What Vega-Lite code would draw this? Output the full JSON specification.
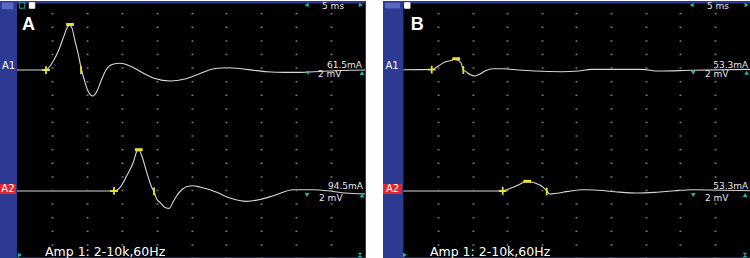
{
"$schema": "https://vega.github.io/schema/vega-lite/v6.json",
"background": "white",
"padding": 0,
"spacing": 17,
"bounds": "flush",
"config": {
  "view": {"fill": "#2d3a92", "stroke": null}
},
"datasets": {
  "trace": [
    {"p":"A","ch":"A1","t":0,"v":0},{"p":"A","ch":"A1","t":4.15,"v":0},{"p":"A","ch":"A1","t":4.58,"v":0.37},{"p":"A","ch":"A1","t":5.2,"v":1.32},{"p":"A","ch":"A1","t":5.92,"v":2.79},{"p":"A","ch":"A1","t":6.63,"v":4.75},{"p":"A","ch":"A1","t":7.16,"v":6.18},{"p":"A","ch":"A1","t":7.52,"v":6.62},{"p":"A","ch":"A1","t":7.86,"v":6.2},{"p":"A","ch":"A1","t":8.31,"v":4.26},{"p":"A","ch":"A1","t":8.78,"v":2.31},{"p":"A","ch":"A1","t":9.17,"v":0.34},{"p":"A","ch":"A1","t":9.6,"v":-1.32},{"p":"A","ch":"A1","t":10.17,"v":-3.09},{"p":"A","ch":"A1","t":10.85,"v":-3.82},{"p":"A","ch":"A1","t":11.46,"v":-3.09},{"p":"A","ch":"A1","t":12.03,"v":-1.62},{"p":"A","ch":"A1","t":12.75,"v":0},{"p":"A","ch":"A1","t":13.61,"v":0.81},{"p":"A","ch":"A1","t":14.76,"v":0.99},{"p":"A","ch":"A1","t":16.19,"v":0.59},{"p":"A","ch":"A1","t":18.05,"v":-0.44},{"p":"A","ch":"A1","t":19.77,"v":-1.25},{"p":"A","ch":"A1","t":21.92,"v":-1.62},{"p":"A","ch":"A1","t":24.07,"v":-1.32},{"p":"A","ch":"A1","t":26.22,"v":-0.51},{"p":"A","ch":"A1","t":28.37,"v":0.22},{"p":"A","ch":"A1","t":30.09,"v":0.34},{"p":"A","ch":"A1","t":31.95,"v":0.22},{"p":"A","ch":"A1","t":34.1,"v":-0.07},{"p":"A","ch":"A1","t":35.82,"v":-0.25},{"p":"A","ch":"A1","t":38.4,"v":-0.34},{"p":"A","ch":"A1","t":40.54,"v":-0.34},{"p":"A","ch":"A1","t":43.41,"v":-0.22},{"p":"A","ch":"A1","t":46.28,"v":-0.07},{"p":"A","ch":"A1","t":49.86,"v":0},
    {"p":"A","ch":"A2","t":0,"v":-17.79},{"p":"A","ch":"A2","t":13.9,"v":-17.79},{"p":"A","ch":"A2","t":14.33,"v":-17.65},{"p":"A","ch":"A2","t":14.76,"v":-17.25},{"p":"A","ch":"A2","t":15.72,"v":-15.54},{"p":"A","ch":"A2","t":16.66,"v":-13.57},{"p":"A","ch":"A2","t":17.12,"v":-12.06},{"p":"A","ch":"A2","t":17.41,"v":-11.72},{"p":"A","ch":"A2","t":17.87,"v":-12.6},{"p":"A","ch":"A2","t":18.58,"v":-15.04},{"p":"A","ch":"A2","t":19.3,"v":-17.25},{"p":"A","ch":"A2","t":19.63,"v":-17.9},{"p":"A","ch":"A2","t":20.01,"v":-18.97},{"p":"A","ch":"A2","t":20.49,"v":-19.46},{"p":"A","ch":"A2","t":21.2,"v":-20.2},{"p":"A","ch":"A2","t":21.82,"v":-20.34},{"p":"A","ch":"A2","t":22.35,"v":-19.41},{"p":"A","ch":"A2","t":22.88,"v":-18.49},{"p":"A","ch":"A2","t":23.74,"v":-17.5},{"p":"A","ch":"A2","t":24.36,"v":-17.13},{"p":"A","ch":"A2","t":25.17,"v":-17.01},{"p":"A","ch":"A2","t":26.22,"v":-17.21},{"p":"A","ch":"A2","t":28.61,"v":-17.99},{"p":"A","ch":"A2","t":30.52,"v":-18.82},{"p":"A","ch":"A2","t":32.91,"v":-19.31},{"p":"A","ch":"A2","t":34.81,"v":-19.04},{"p":"A","ch":"A2","t":36.72,"v":-18.49},{"p":"A","ch":"A2","t":39.58,"v":-17.6},{"p":"A","ch":"A2","t":42.41,"v":-17.6},{"p":"A","ch":"A2","t":44.84,"v":-17.79},{"p":"A","ch":"A2","t":46.99,"v":-18.09},{"p":"A","ch":"A2","t":49.86,"v":-18.24},
    {"p":"B","ch":"A1","t":0,"v":0.05},{"p":"B","ch":"A1","t":4.09,"v":0.07},{"p":"B","ch":"A1","t":5.04,"v":0.59},{"p":"B","ch":"A1","t":6.01,"v":1.18},{"p":"B","ch":"A1","t":6.98,"v":1.43},{"p":"B","ch":"A1","t":7.31,"v":1.62},{"p":"B","ch":"A1","t":7.7,"v":1.51},{"p":"B","ch":"A1","t":8.32,"v":1.07},{"p":"B","ch":"A1","t":8.66,"v":-0.04},{"p":"B","ch":"A1","t":8.9,"v":-0.15},{"p":"B","ch":"A1","t":9.62,"v":-0.66},{"p":"B","ch":"A1","t":10.35,"v":-0.88},{"p":"B","ch":"A1","t":11.07,"v":-0.59},{"p":"B","ch":"A1","t":11.79,"v":-0.15},{"p":"B","ch":"A1","t":12.99,"v":0.19},{"p":"B","ch":"A1","t":14.44,"v":0.19},{"p":"B","ch":"A1","t":16.6,"v":0},{"p":"B","ch":"A1","t":19.02,"v":-0.15},{"p":"B","ch":"A1","t":22.88,"v":-0.25},{"p":"B","ch":"A1","t":25.27,"v":-0.15},{"p":"B","ch":"A1","t":27.21,"v":0.1},{"p":"B","ch":"A1","t":34.44,"v":0.1},{"p":"B","ch":"A1","t":36.84,"v":-0.15},{"p":"B","ch":"A1","t":41.66,"v":-0.04},{"p":"B","ch":"A1","t":50.09,"v":0.1},
    {"p":"B","ch":"A2","t":0,"v":-17.79},{"p":"B","ch":"A2","t":14.35,"v":-17.79},{"p":"B","ch":"A2","t":15.16,"v":-17.5},{"p":"B","ch":"A2","t":16.6,"v":-16.91},{"p":"B","ch":"A2","t":17.43,"v":-16.47},{"p":"B","ch":"A2","t":17.86,"v":-16.32},{"p":"B","ch":"A2","t":18.44,"v":-16.47},{"p":"B","ch":"A2","t":19.02,"v":-16.62},{"p":"B","ch":"A2","t":20.22,"v":-17.25},{"p":"B","ch":"A2","t":20.71,"v":-17.75},{"p":"B","ch":"A2","t":21.18,"v":-18.24},{"p":"B","ch":"A2","t":22.15,"v":-18.13},{"p":"B","ch":"A2","t":23.83,"v":-17.84},{"p":"B","ch":"A2","t":26.0,"v":-17.6},{"p":"B","ch":"A2","t":27.69,"v":-17.65},{"p":"B","ch":"A2","t":30.58,"v":-17.9},{"p":"B","ch":"A2","t":33.95,"v":-18.09},{"p":"B","ch":"A2","t":36.36,"v":-17.99},{"p":"B","ch":"A2","t":39.25,"v":-17.75},{"p":"B","ch":"A2","t":41.66,"v":-17.6},{"p":"B","ch":"A2","t":50.09,"v":-17.75}
  ],
  "marks": [
    {"p":"A","k":"on","t":4.15,"v":0},{"p":"A","k":"peak","t":7.59,"v":6.69},{"p":"A","k":"end","t":9.17,"v":0},
    {"p":"A","k":"on","t":13.9,"v":-17.79},{"p":"A","k":"peak","t":17.45,"v":-11.72},{"p":"A","k":"end","t":19.63,"v":-17.85},
    {"p":"B","k":"on","t":4.09,"v":0.07},{"p":"B","k":"peak","t":7.63,"v":1.66},{"p":"B","k":"end","t":8.66,"v":0},
    {"p":"B","k":"on","t":14.35,"v":-17.79},{"p":"B","k":"peak","t":17.9,"v":-16.37},{"p":"B","k":"end","t":20.71,"v":-17.87}
  ],
  "boxes": [
    {"p":"A","k":"plot","t":0,"t2":49.86,"v":-27.54,"v2":9.78},
    {"p":"A","k":"tag","t":-2.44,"t2":-0.15,"v":-18.24,"v2":-16.76},
    {"p":"A","k":"icon","t":-2.19,"t2":-0.53,"v":8.93,"v2":9.93},
    {"p":"B","k":"plot","t":0,"t2":50.09,"v":-27.54,"v2":9.78},
    {"p":"B","k":"tag","t":-2.95,"t2":-0.2,"v":-18.24,"v2":-16.76},
    {"p":"B","k":"icon","t":-2.66,"t2":-0.49,"v":9.07,"v2":9.9}
  ],
  "tris": [
    {"p":"A","k":"left","t":41.5,"v":9.56},{"p":"A","k":"right","t":49.28,"v":9.56},{"p":"A","k":"down","t":41.69,"v":-0.44},{"p":"A","k":"up","t":49.43,"v":-0.44},{"p":"A","k":"down","t":41.55,"v":-18.38},{"p":"A","k":"up","t":49.43,"v":-18.45},{"p":"A","k":"right","t":0.43,"v":-27.2},{"p":"A","k":"hour","t":49.14,"v":-27.2},
    {"p":"B","k":"left","t":41.66,"v":9.56},{"p":"B","k":"right","t":49.61,"v":9.56},{"p":"B","k":"down","t":41.89,"v":-0.39},{"p":"B","k":"up","t":49.61,"v":-0.39},{"p":"B","k":"down","t":41.89,"v":-18.38},{"p":"B","k":"up","t":49.39,"v":-18.38},{"p":"B","k":"right","t":0.23,"v":-27.2},{"p":"B","k":"hour","t":49.36,"v":-27.2}
  ],
  "squares": [
    {"p":"A","k":"outline","t":0.72,"v":9.49},{"p":"A","k":"white","t":2.15,"v":9.49},{"p":"B","k":"white","t":0.55,"v":9.49}
  ],
  "labels": [
    {"p":"A","r":"letter","t":1.65,"v":6.6,"txt":"A"},
    {"p":"A","r":"side","t":-1.22,"v":0.55,"txt":"A1"},
    {"p":"A","r":"side","t":-1.3,"v":-17.5,"txt":"A2"},
    {"p":"A","r":"amp","t":49.43,"v":0.3,"txt":"61.5mA"},
    {"p":"A","r":"amp","t":49.57,"v":-17.55,"txt":"94.5mA"},
    {"p":"A","r":"scale","t":43.12,"v":-1.0,"txt":"2 mV"},
    {"p":"A","r":"scale","t":43.27,"v":-19.25,"txt":"2 mV"},
    {"p":"A","r":"scale","t":43.7,"v":8.97,"txt":"5 ms"},
    {"p":"A","r":"foot","t":4.01,"v":-27.35,"txt":"Amp 1: 2-10k,60Hz"},
    {"p":"B","r":"letter","t":1.99,"v":6.6,"txt":"B"},
    {"p":"B","r":"side","t":-1.65,"v":0.55,"txt":"A1"},
    {"p":"B","r":"side","t":-1.58,"v":-17.5,"txt":"A2"},
    {"p":"B","r":"amp","t":49.84,"v":0.35,"txt":"53.3mA"},
    {"p":"B","r":"amp","t":49.84,"v":-17.5,"txt":"53.3mA"},
    {"p":"B","r":"scale","t":43.58,"v":-1.0,"txt":"2 mV"},
    {"p":"B","r":"scale","t":43.58,"v":-19.2,"txt":"2 mV"},
    {"p":"B","r":"scale","t":43.87,"v":8.97,"txt":"5 ms"},
    {"p":"B","r":"foot","t":3.84,"v":-27.35,"txt":"Amp 1: 2-10k,60Hz"}
  ]
},
"hconcat": [
  {
    "width": 366, "height": 258,
    "resolve": {"scale": {"shape": "independent", "color": "independent", "fill": "independent", "stroke": "independent"}},
    "encoding": {
      "x": {"field":"t","type":"quantitative","scale":{"domain":[-2.44,50],"nice":false,"zero":false},"axis":{"title":null,"values":[5,10,15,20,25,30,35,40,45],"labels":false,"ticks":false,"domain":false,"grid":true,"gridColor":"#6a7c7c","gridWidth":2,"gridDash":[1.5,12.1],"gridDashOffset":2.15,"zindex":2}},
      "y": {"field":"v","type":"quantitative","scale":{"domain":[-27.79,10.15],"nice":false,"zero":false},"axis":null}
    },
    "layer": [
      {"data":{"name":"boxes"},"transform":[{"filter":"datum.p==='A'"}],"mark":{"type":"rect"},"encoding":{"x2":{"field":"t2"},"y2":{"field":"v2"},"color":{"field":"k","type":"nominal","scale":{"domain":["plot","tag","icon"],"range":["#000000","#e1262d","#5a6ac4"]},"legend":null}}},
      {"data":{"name":"trace"},"transform":[{"filter":"datum.p==='A'"}],"mark":{"type":"line","interpolate":"monotone","color":"#d8d8d8","strokeWidth":1.1,"clip":true},"encoding":{"detail":{"field":"ch"}}},
      {"data":{"name":"marks"},"transform":[{"filter":"datum.p==='A' && datum.k==='on'"}],"mark":{"type":"point","filled":false,"color":"#e8e232","size":60,"strokeWidth":1.8,"opacity":1,"shape":"M-1,0L1,0M0,-1L0,1"}},
      {"data":{"name":"marks"},"transform":[{"filter":"datum.p==='A' && datum.k==='end'"}],"mark":{"type":"point","filled":false,"color":"#e8e232","size":60,"strokeWidth":1.8,"opacity":1,"shape":"M0,-1L0,1"}},
      {"data":{"name":"marks"},"transform":[{"filter":"datum.p==='A' && datum.k==='peak'"}],"mark":{"type":"point","filled":false,"color":"#e8e232","size":60,"strokeWidth":3,"opacity":1,"shape":"M-1,0L1,0"}},
      {"data":{"name":"tris"},"transform":[{"filter":"datum.p==='A'"}],"mark":{"type":"point","filled":true,"color":"#22b4ba","size":22,"opacity":1},"encoding":{"shape":{"field":"k","type":"nominal","scale":{"domain":["left","right","down","up","hour"],"range":["triangle-left","triangle-right","triangle-down","triangle-up","M-1,-1L1,-1L-1,1L1,1Z"]},"legend":null}}},
      {"data":{"name":"squares"},"transform":[{"filter":"datum.p==='A'"}],"mark":{"type":"point","shape":"square","size":30,"strokeWidth":1,"opacity":1,"filled":true},"encoding":{"fill":{"field":"k","type":"nominal","scale":{"domain":["outline","white"],"range":["#000000","#ffffff"]},"legend":null},"stroke":{"field":"k","type":"nominal","scale":{"domain":["outline","white"],"range":["#2aa8ae","#ffffff"]},"legend":null}}},
      {"data":{"name":"labels"},"transform":[{"filter":"datum.p==='A' && datum.r==='letter'"}],"mark":{"type":"text","font":"Liberation Sans","fontWeight":"bold","fontSize":18,"color":"#ffffff","align":"center","baseline":"middle"},"encoding":{"text":{"field":"txt"}}},
      {"data":{"name":"labels"},"transform":[{"filter":"datum.p==='A' && datum.r==='side'"}],"mark":{"type":"text","font":"DejaVu Sans","fontSize":10,"color":"#ffffff","align":"center","baseline":"middle"},"encoding":{"text":{"field":"txt"}}},
      {"data":{"name":"labels"},"transform":[{"filter":"datum.p==='A' && datum.r==='amp'"}],"mark":{"type":"text","font":"DejaVu Sans","fontSize":9,"color":"#e6e6e6","align":"right","baseline":"alphabetic"},"encoding":{"text":{"field":"txt"}}},
      {"data":{"name":"labels"},"transform":[{"filter":"datum.p==='A' && datum.r==='scale'"}],"mark":{"type":"text","font":"DejaVu Sans","fontSize":9,"color":"#e6e6e6","align":"left","baseline":"alphabetic"},"encoding":{"text":{"field":"txt"}}},
      {"data":{"name":"labels"},"transform":[{"filter":"datum.p==='A' && datum.r==='foot'"}],"mark":{"type":"text","font":"DejaVu Sans","fontSize":12.5,"color":"#ffffff","align":"left","baseline":"alphabetic"},"encoding":{"text":{"field":"txt"}}}
    ]
  },
  {
    "width": 367, "height": 258,
    "resolve": {"scale": {"shape": "independent", "color": "independent", "fill": "independent", "stroke": "independent"}},
    "encoding": {
      "x": {"field":"t","type":"quantitative","scale":{"domain":[-2.95,50.09],"nice":false,"zero":false},"axis":{"title":null,"values":[5,10,15,20,25,30,35,40,45],"labels":false,"ticks":false,"domain":false,"grid":true,"gridColor":"#6a7c7c","gridWidth":2,"gridDash":[1.5,12.1],"gridDashOffset":2.15,"zindex":2}},
      "y": {"field":"v","type":"quantitative","scale":{"domain":[-27.79,10.15],"nice":false,"zero":false},"axis":null}
    },
    "layer": [
      {"data":{"name":"boxes"},"transform":[{"filter":"datum.p==='B'"}],"mark":{"type":"rect"},"encoding":{"x2":{"field":"t2"},"y2":{"field":"v2"},"color":{"field":"k","type":"nominal","scale":{"domain":["plot","tag","icon"],"range":["#000000","#e1262d","#5a6ac4"]},"legend":null}}},
      {"data":{"name":"trace"},"transform":[{"filter":"datum.p==='B'"}],"mark":{"type":"line","interpolate":"monotone","color":"#d8d8d8","strokeWidth":1.1,"clip":true},"encoding":{"detail":{"field":"ch"}}},
      {"data":{"name":"marks"},"transform":[{"filter":"datum.p==='B' && datum.k==='on'"}],"mark":{"type":"point","filled":false,"color":"#e8e232","size":60,"strokeWidth":1.8,"opacity":1,"shape":"M-1,0L1,0M0,-1L0,1"}},
      {"data":{"name":"marks"},"transform":[{"filter":"datum.p==='B' && datum.k==='end'"}],"mark":{"type":"point","filled":false,"color":"#e8e232","size":60,"strokeWidth":1.8,"opacity":1,"shape":"M0,-1L0,1"}},
      {"data":{"name":"marks"},"transform":[{"filter":"datum.p==='B' && datum.k==='peak'"}],"mark":{"type":"point","filled":false,"color":"#e8e232","size":60,"strokeWidth":3,"opacity":1,"shape":"M-1,0L1,0"}},
      {"data":{"name":"tris"},"transform":[{"filter":"datum.p==='B'"}],"mark":{"type":"point","filled":true,"color":"#22b4ba","size":22,"opacity":1},"encoding":{"shape":{"field":"k","type":"nominal","scale":{"domain":["left","right","down","up","hour"],"range":["triangle-left","triangle-right","triangle-down","triangle-up","M-1,-1L1,-1L-1,1L1,1Z"]},"legend":null}}},
      {"data":{"name":"squares"},"transform":[{"filter":"datum.p==='B'"}],"mark":{"type":"point","shape":"square","size":30,"strokeWidth":1,"opacity":1,"filled":true},"encoding":{"fill":{"field":"k","type":"nominal","scale":{"domain":["outline","white"],"range":["#000000","#ffffff"]},"legend":null},"stroke":{"field":"k","type":"nominal","scale":{"domain":["outline","white"],"range":["#2aa8ae","#ffffff"]},"legend":null}}},
      {"data":{"name":"labels"},"transform":[{"filter":"datum.p==='B' && datum.r==='letter'"}],"mark":{"type":"text","font":"Liberation Sans","fontWeight":"bold","fontSize":18,"color":"#ffffff","align":"center","baseline":"middle"},"encoding":{"text":{"field":"txt"}}},
      {"data":{"name":"labels"},"transform":[{"filter":"datum.p==='B' && datum.r==='side'"}],"mark":{"type":"text","font":"DejaVu Sans","fontSize":10,"color":"#ffffff","align":"center","baseline":"middle"},"encoding":{"text":{"field":"txt"}}},
      {"data":{"name":"labels"},"transform":[{"filter":"datum.p==='B' && datum.r==='amp'"}],"mark":{"type":"text","font":"DejaVu Sans","fontSize":9,"color":"#e6e6e6","align":"right","baseline":"alphabetic"},"encoding":{"text":{"field":"txt"}}},
      {"data":{"name":"labels"},"transform":[{"filter":"datum.p==='B' && datum.r==='scale'"}],"mark":{"type":"text","font":"DejaVu Sans","fontSize":9,"color":"#e6e6e6","align":"left","baseline":"alphabetic"},"encoding":{"text":{"field":"txt"}}},
      {"data":{"name":"labels"},"transform":[{"filter":"datum.p==='B' && datum.r==='foot'"}],"mark":{"type":"text","font":"DejaVu Sans","fontSize":12.5,"color":"#ffffff","align":"left","baseline":"alphabetic"},"encoding":{"text":{"field":"txt"}}}
    ]
  }
]
}
